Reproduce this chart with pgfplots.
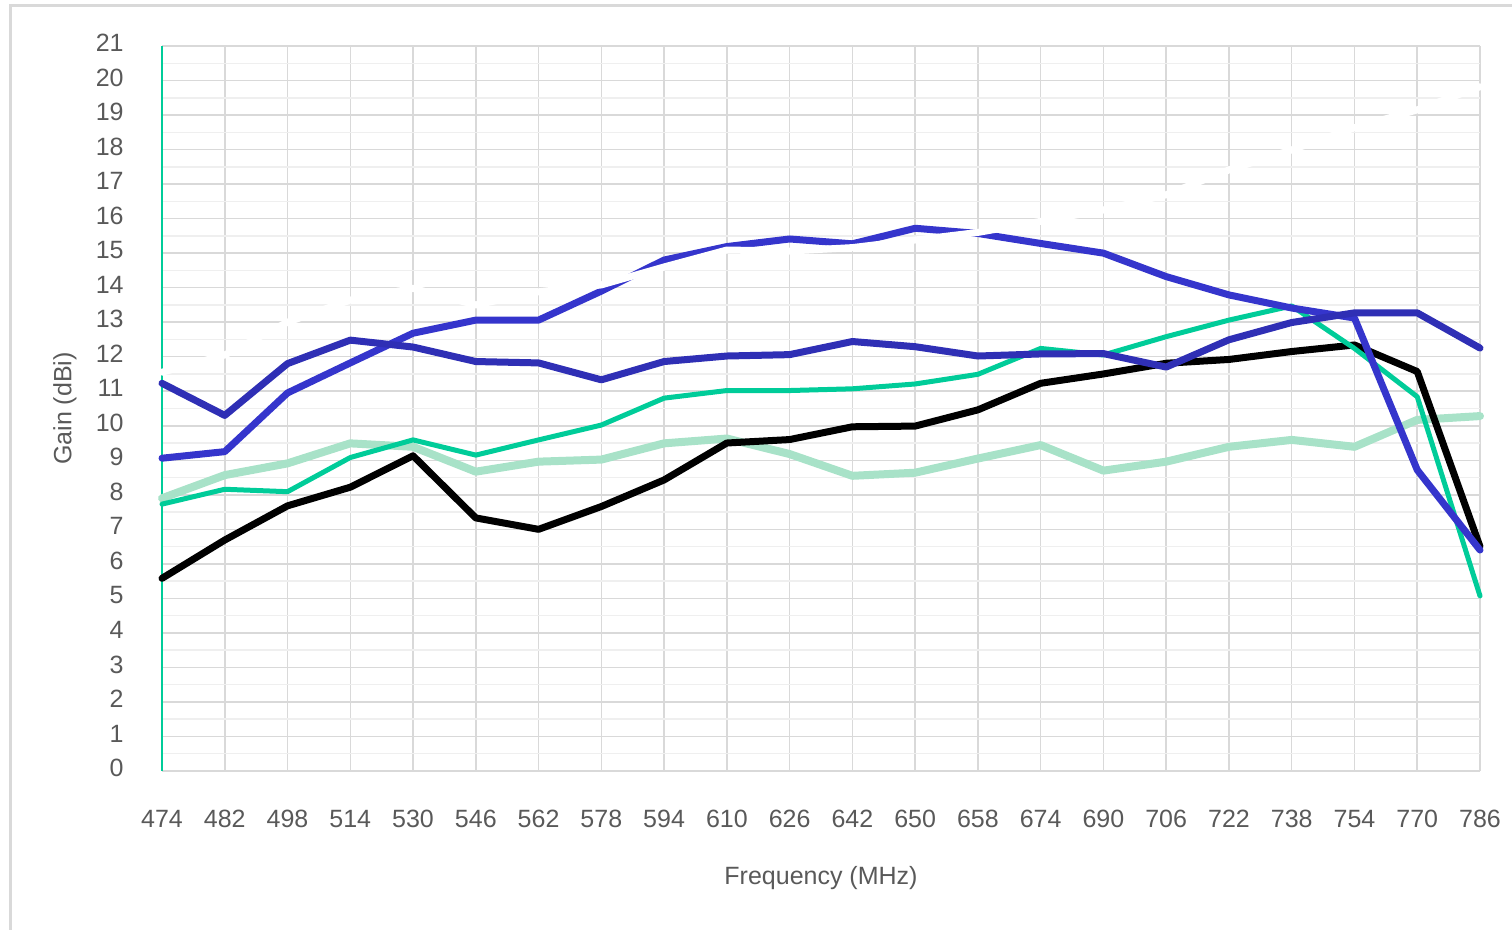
\documentclass[border=0pt]{standalone}
\usepackage{pgfplots}
\pgfplotsset{compat=1.18}
\usepackage{fontspec}
\setmainfont{Liberation Sans}
\definecolor{blueA}{HTML}{3535CC}
\definecolor{blueB}{HTML}{2F2FB5}
\definecolor{teal}{HTML}{00CC99}
\definecolor{lgreen}{HTML}{A8E2C8}
\definecolor{gridmaj}{HTML}{D9D9D9}
\definecolor{gridmin}{HTML}{EFEFEF}
\definecolor{txt}{HTML}{595959}
\begin{document}
\begin{tikzpicture}
\path[use as bounding box] (0,0) rectangle (756pt,465pt);
\draw[gridmaj, line width=1.5pt] (5pt,0) -- (5pt,462pt) -- (760pt,462pt);
\begin{axis}[
  at={(81pt,79.5pt)}, anchor=south west,
  scale only axis, width=659pt, height=362.5pt,
  xmin=0, xmax=21, ymin=0, ymax=21,
  xtick={0,...,21},
  xticklabels={474,482,498,514,530,546,562,578,594,610,626,642,650,658,674,690,706,722,738,754,770,786},
  ytick={0,...,21},
  minor ytick={0.5,1.5,...,20.5},
  grid=both,
  major grid style={gridmaj, line width=0.75pt},
  minor grid style={gridmin, line width=0.75pt},
  axis x line=bottom, axis y line=left,
  x axis line style={gridmaj, line width=0.75pt, -},
  y axis line style={teal, line width=0.9pt, -},
  tick style={draw=none},
  major tick length=0pt, minor tick length=0pt,
  /pgf/number format/assume math mode=true,
  ticklabel style={font=\fontsize{12.5}{14}\selectfont, text=txt, inner sep=0pt},
  xticklabel style={anchor=north, yshift=-19.5pt},
  yticklabel style={anchor=east, xshift=-19pt, yshift=1.5pt},
  xlabel={Frequency (MHz)}, ylabel={Gain (dBi)},
  label style={font=\fontsize{12.5}{14}\selectfont, text=txt},
  xlabel style={at={(axis description cs:0.5,-0.1476)}, anchor=center},
  ylabel style={at={(axis description cs:-0.0736,0.5)}, anchor=center, rotate=0},
  clip=false,
  every axis plot/.append style={line join=round, line cap=round},
]
% light green
\addplot[lgreen, line width=4pt] coordinates {
(0,7.9) (1,8.57) (2,8.91) (3,9.49) (4,9.39) (5,8.67) (6,8.96) (7,9.02) (8,9.49) (9,9.63) (10,9.18) (11,8.55) (12,8.64) (13,9.05) (14,9.44) (15,8.7) (16,8.96) (17,9.39) (18,9.59) (19,9.39) (20,10.17) (21,10.28)};
% black
\addplot[black, line width=3.5pt] coordinates {
(0,5.58) (1,6.69) (2,7.68) (3,8.22) (4,9.13) (5,7.33) (6,7.0) (7,7.66) (8,8.43) (9,9.5) (10,9.6) (11,9.97) (12,9.99) (13,10.46) (14,11.23) (15,11.5) (16,11.81) (17,11.92) (18,12.15) (19,12.34) (20,11.57) (21,6.5)};
% teal
\addplot[teal, line width=2.5pt] coordinates {
(0,7.73) (1,8.16) (2,8.09) (3,9.08) (4,9.59) (5,9.15) (6,9.59) (7,10.02) (8,10.8) (9,11.02) (10,11.02) (11,11.07) (12,11.21) (13,11.49) (14,12.24) (15,12.05) (16,12.58) (17,13.06) (18,13.47) (19,12.24) (20,10.84) (21,5.07)};
% blue A
\addplot[blueA, line width=3.5pt] coordinates {
(0,9.06) (1,9.25) (2,10.95) (3,11.82) (4,12.68) (5,13.06) (6,13.06) (7,13.9) (8,14.8) (9,15.19) (10,15.41) (11,15.27) (12,15.72) (13,15.57) (14,15.28) (15,15.0) (16,14.32) (17,13.79) (18,13.41) (19,13.12) (20,8.72) (21,6.4)};
% blue B
\addplot[blueB, line width=3.5pt] coordinates {
(0,11.23) (1,10.3) (2,11.8) (3,12.48) (4,12.28) (5,11.86) (6,11.82) (7,11.33) (8,11.86) (9,12.02) (10,12.06) (11,12.44) (12,12.29) (13,12.02) (14,12.08) (15,12.09) (16,11.7) (17,12.49) (18,12.99) (19,13.27) (20,13.27) (21,12.25)};
% white
\addplot[white, line width=3.5pt] coordinates {
(0,11.55) (1,12.05) (2,13.0) (3,13.64) (4,13.98) (5,13.5) (6,13.88) (7,14.08) (8,14.6) (9,15.09) (10,15.06) (11,15.16) (12,15.38) (13,15.6) (14,15.92) (15,16.25) (16,16.69) (17,17.41) (18,17.99) (19,18.63) (20,19.15) (21,19.82)};
\end{axis}
\end{tikzpicture}
\end{document}
